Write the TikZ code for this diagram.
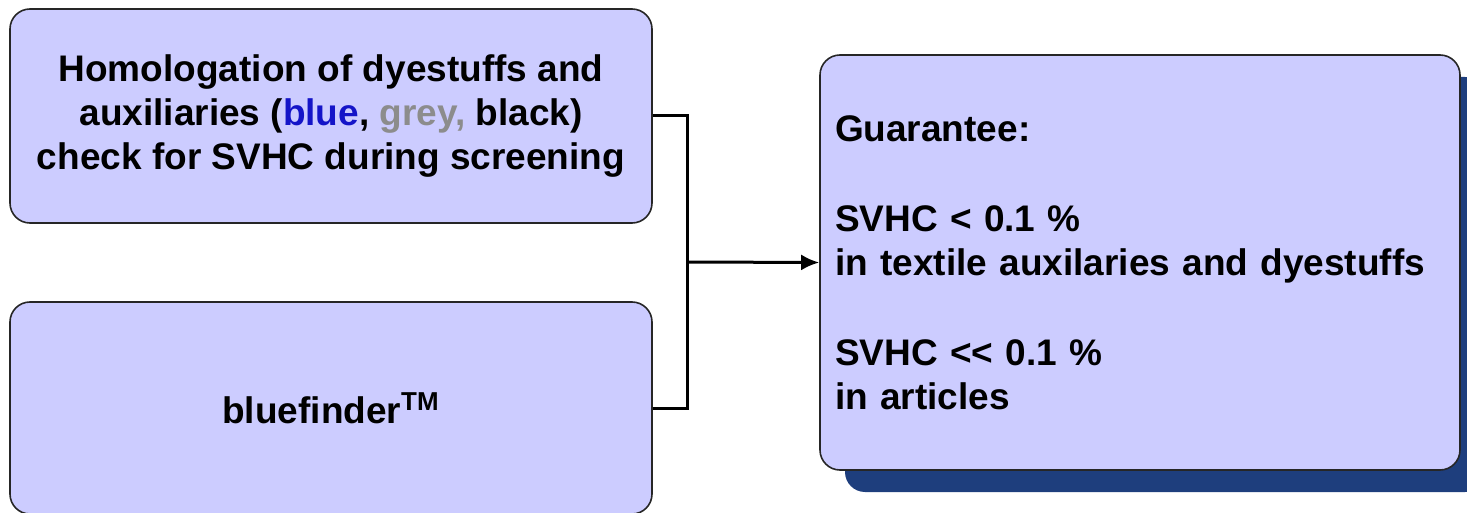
\documentclass[tikz,border=0pt]{standalone}
\usepackage{fontspec}
\setmainfont{Liberation Sans}
\usetikzlibrary{arrows.meta,shadows}

\definecolor{boxfill}{RGB}{204,204,255}
\definecolor{shadowblue}{RGB}{30,62,125}
\definecolor{markblue}{RGB}{20,20,200}
\definecolor{markgrey}{RGB}{140,140,140}

\tikzset{
  box/.style={draw=black!85, fill=boxfill, line width=0.8pt, rounded corners=10pt,
    font=\fontsize{18.5}{22}\selectfont\bfseries},
  link/.style={line width=1.5pt}
}

\begin{document}
\begin{tikzpicture}[x=0.5pt, y=-0.5pt]
\useasboundingbox (0,0) rectangle (1467,513);

% linke Kaesten
\node[box, minimum width=321pt, minimum height=107pt, align=center] (homolog) at (331,116)
  {Homologation of dyestuffs and\\
   auxiliaries ({\color{markblue}blue}, {\color{markgrey}grey,} black)\\
   check for SVHC during screening};
\node[box, minimum width=321pt, minimum height=106pt] (finder) at (331,408)
  {bluefinder\textsuperscript{TM}};

% rechter Kasten mit Schatten
\node[box, minimum width=320pt, minimum height=207.5pt, text width=305pt, align=left,
  inner sep=7.5pt,
  drop shadow={shadow xshift=12.5pt, shadow yshift=-11pt, fill=shadowblue, opacity=1}]
  (guarantee) at (1140,262.5)
  {Guarantee:\\[23pt]
   SVHC < 0.1 \%\\
   in textile auxilaries and dyestuffs\\[23pt]
   SVHC <{}< 0.1 \%\\
   in articles};

% Verbindung
\coordinate (join) at (687,262);
\draw[link] (homolog.east) -| (join);
\draw[link] (finder.east) -| (join);
\draw[link, -{Latex[length=9pt, width=8pt]}] (join) -- (guarantee.west);
\end{tikzpicture}
\end{document}
